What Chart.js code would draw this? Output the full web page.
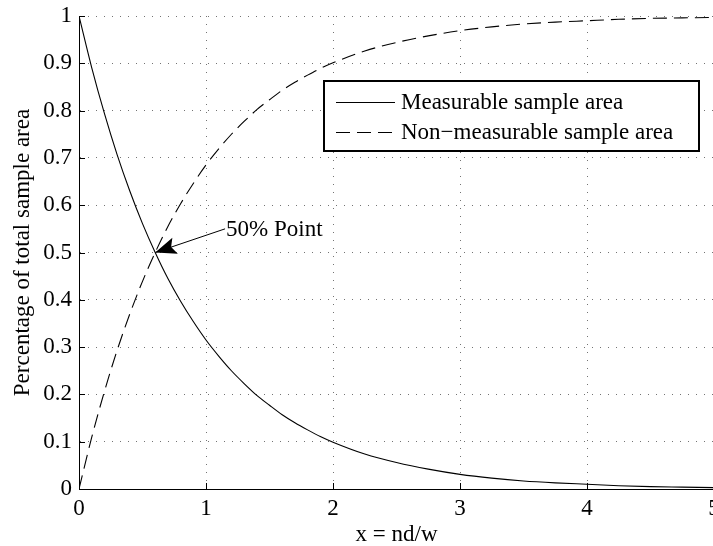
<!DOCTYPE html>
<html>
<head>
<meta charset="utf-8">
<script src="https://cdn.jsdelivr.net/npm/chart.js@4.4.1/dist/chart.umd.min.js"></script>
<style>
  html, body { margin: 0; padding: 0; background: #fff; overflow: hidden; width: 713px; height: 546px; }
  #wrap { position: relative; width: 720px; height: 546px; }
  canvas { display: block; }
</style>
</head>
<body>
<div id="wrap"><canvas id="chart" width="720" height="546"></canvas></div>
<script>
// x = nd/w sample positions
const xValues = [0, 0.1, 0.2, 0.3, 0.4, 0.5, 0.6, 0.7, 0.8, 0.9, 1.0,
  1.1, 1.2, 1.3, 1.4, 1.5, 1.6, 1.7, 1.8, 1.9, 2.0,
  2.25, 2.5, 2.75, 3.0, 3.25, 3.5, 3.75, 4.0, 4.25, 4.5, 4.75, 5.0];

// fraction of the sample area that can be measured
const measurable = [1.000, 0.891, 0.794, 0.707, 0.630, 0.561, 0.500, 0.445, 0.397, 0.354, 0.315,
  0.281, 0.250, 0.223, 0.198, 0.177, 0.157, 0.140, 0.125, 0.111, 0.099,
  0.074, 0.056, 0.042, 0.031, 0.023, 0.017, 0.013, 0.010, 0.007, 0.005, 0.004, 0.003];

// fraction of the sample area that cannot be measured
const nonMeasurable = [0.000, 0.109, 0.206, 0.293, 0.370, 0.439, 0.500, 0.555, 0.603, 0.646, 0.685,
  0.719, 0.750, 0.777, 0.802, 0.823, 0.843, 0.860, 0.875, 0.889, 0.901,
  0.926, 0.944, 0.958, 0.969, 0.977, 0.983, 0.987, 0.990, 0.993, 0.995, 0.996, 0.997];

const seriesNames = ['Measurable sample area', 'Non\u2212measurable sample area'];
const xTicks = [0, 1, 2, 3, 4, 5];
const yTicks = [0, 0.1, 0.2, 0.3, 0.4, 0.5, 0.6, 0.7, 0.8, 0.9, 1];
const xTitle = 'x = nd/w';
const yTitle = 'Percentage of total sample area';
const crossing = [0.6, 0.5];
const crossingLabel = '50% Point';

const FONT = "'Liberation Serif', 'Times New Roman', serif";
const toPoints = ys => xValues.map((v, i) => ({ x: v, y: ys[i] }));

// inward ticks, legend box and the arrow annotation
const decorations = {
  id: 'decorations',
  afterDraw(chart) {
    const { ctx, chartArea: a, scales: { x, y } } = chart;
    ctx.save();
    ctx.strokeStyle = '#000';
    ctx.lineWidth = 1;
    ctx.beginPath();
    xTicks.forEach(v => {
      const px = Math.round(x.getPixelForValue(v)) + 0.5;
      ctx.moveTo(px, a.bottom); ctx.lineTo(px, a.bottom - 6);
    });
    yTicks.forEach(v => {
      const py = Math.round(y.getPixelForValue(v)) + 0.5;
      ctx.moveTo(a.left, py); ctx.lineTo(a.left + 6, py);
    });
    ctx.stroke();

    // arrow pointing at the crossing point
    const tipX = x.getPixelForValue(crossing[0]);
    const tipY = y.getPixelForValue(crossing[1]);
    const fromX = x.getPixelForValue(1.15);
    const fromY = y.getPixelForValue(0.55);
    ctx.beginPath();
    ctx.moveTo(fromX, fromY);
    ctx.lineTo(tipX, tipY);
    ctx.stroke();
    const len = Math.hypot(fromX - tipX, fromY - tipY);
    const ux = (fromX - tipX) / len, uy = (fromY - tipY) / len;
    const nx = -uy, ny = ux;
    const L = 21, W = 8.5;
    ctx.fillStyle = '#000';
    ctx.beginPath();
    ctx.moveTo(tipX, tipY);
    ctx.lineTo(tipX + ux * L + nx * W, tipY + uy * L + ny * W);
    ctx.lineTo(tipX + ux * L * 0.8, tipY + uy * L * 0.8);
    ctx.lineTo(tipX + ux * L - nx * W, tipY + uy * L - ny * W);
    ctx.closePath();
    ctx.fill();
    ctx.font = '23px ' + FONT;
    ctx.textAlign = 'left';
    ctx.textBaseline = 'middle';
    ctx.fillText(crossingLabel, fromX + 1, fromY + 1);

    // legend
    const bx = 324, by = 81, bw = 375, bh = 70;
    ctx.fillStyle = '#fff';
    ctx.fillRect(bx, by, bw, bh);
    ctx.lineWidth = 2;
    ctx.strokeRect(bx, by, bw, bh);
    chart.data.datasets.forEach((ds, i) => {
      const rowY = by + 21 + i * 30;
      ctx.lineWidth = 1.1;
      ctx.strokeStyle = ds.borderColor;
      ctx.setLineDash(ds.borderDash || []);
      ctx.beginPath();
      ctx.moveTo(bx + 12, rowY + 0.5);
      ctx.lineTo(bx + 71, rowY + 0.5);
      ctx.stroke();
      ctx.setLineDash([]);
      ctx.fillStyle = '#000';
      ctx.fillText(ds.label, bx + 77, rowY + 1);
    });
    ctx.restore();
  }
};

new Chart(document.getElementById('chart'), {
  type: 'line',
  data: {
    datasets: [
      {
        label: seriesNames[0],
        data: toPoints(measurable),
        borderColor: '#000',
        borderWidth: 1.1,
        pointRadius: 0,
        tension: 0.4,
        cubicInterpolationMode: 'monotone',
        fill: false
      },
      {
        label: seriesNames[1],
        data: toPoints(nonMeasurable),
        borderColor: '#000',
        borderWidth: 1.1,
        borderDash: [14, 7],
        pointRadius: 0,
        tension: 0.4,
        cubicInterpolationMode: 'monotone',
        fill: false
      }
    ]
  },
  options: {
    responsive: false,
    devicePixelRatio: 1,
    animation: false,
    layout: { padding: { left: 0, top: 16, right: 6, bottom: 0 } },
    plugins: { legend: { display: false }, tooltip: { enabled: false } },
    scales: {
      x: {
        type: 'linear',
        min: 0,
        max: 5,
        afterBuildTicks: s => { s.ticks = xTicks.map(v => ({ value: v })); },
        afterFit: s => { s.height = 57; s.paddingLeft = 0; s.paddingRight = 0; },
        grid: { color: 'rgba(0,0,0,0.55)', lineWidth: 1, drawTicks: false },
        border: { display: true, color: '#000', width: 1, dash: [1, 7] },
        ticks: {
          color: '#000',
          padding: 6,
          maxRotation: 0,
          font: { family: FONT, size: 23 },
          callback: v => String(v)
        },
        title: {
          display: true,
          text: xTitle,
          color: '#000',
          font: { family: FONT, size: 23, lineHeight: 1.0 },
          padding: { top: 0, bottom: 0 }
        }
      },
      y: {
        type: 'linear',
        min: 0,
        max: 1,
        afterBuildTicks: s => { s.ticks = yTicks.map(v => ({ value: v })); },
        afterFit: s => { s.width = 79; s.paddingTop = 0; s.paddingBottom = 0; },
        grid: { color: 'rgba(0,0,0,0.55)', lineWidth: 1, drawTicks: false },
        border: { display: true, color: '#000', width: 1, dash: [1, 7] },
        ticks: {
          color: '#000',
          padding: 7,
          font: { family: FONT, size: 23 },
          callback: v => String(Math.round(v * 10) / 10)
        },
        title: {
          display: true,
          text: yTitle,
          color: '#000',
          font: { family: FONT, size: 23, lineHeight: 1.2 },
          padding: { top: 9, bottom: 0 }
        }
      }
    }
  },
  plugins: [decorations]
});
</script>
</body>
</html>
